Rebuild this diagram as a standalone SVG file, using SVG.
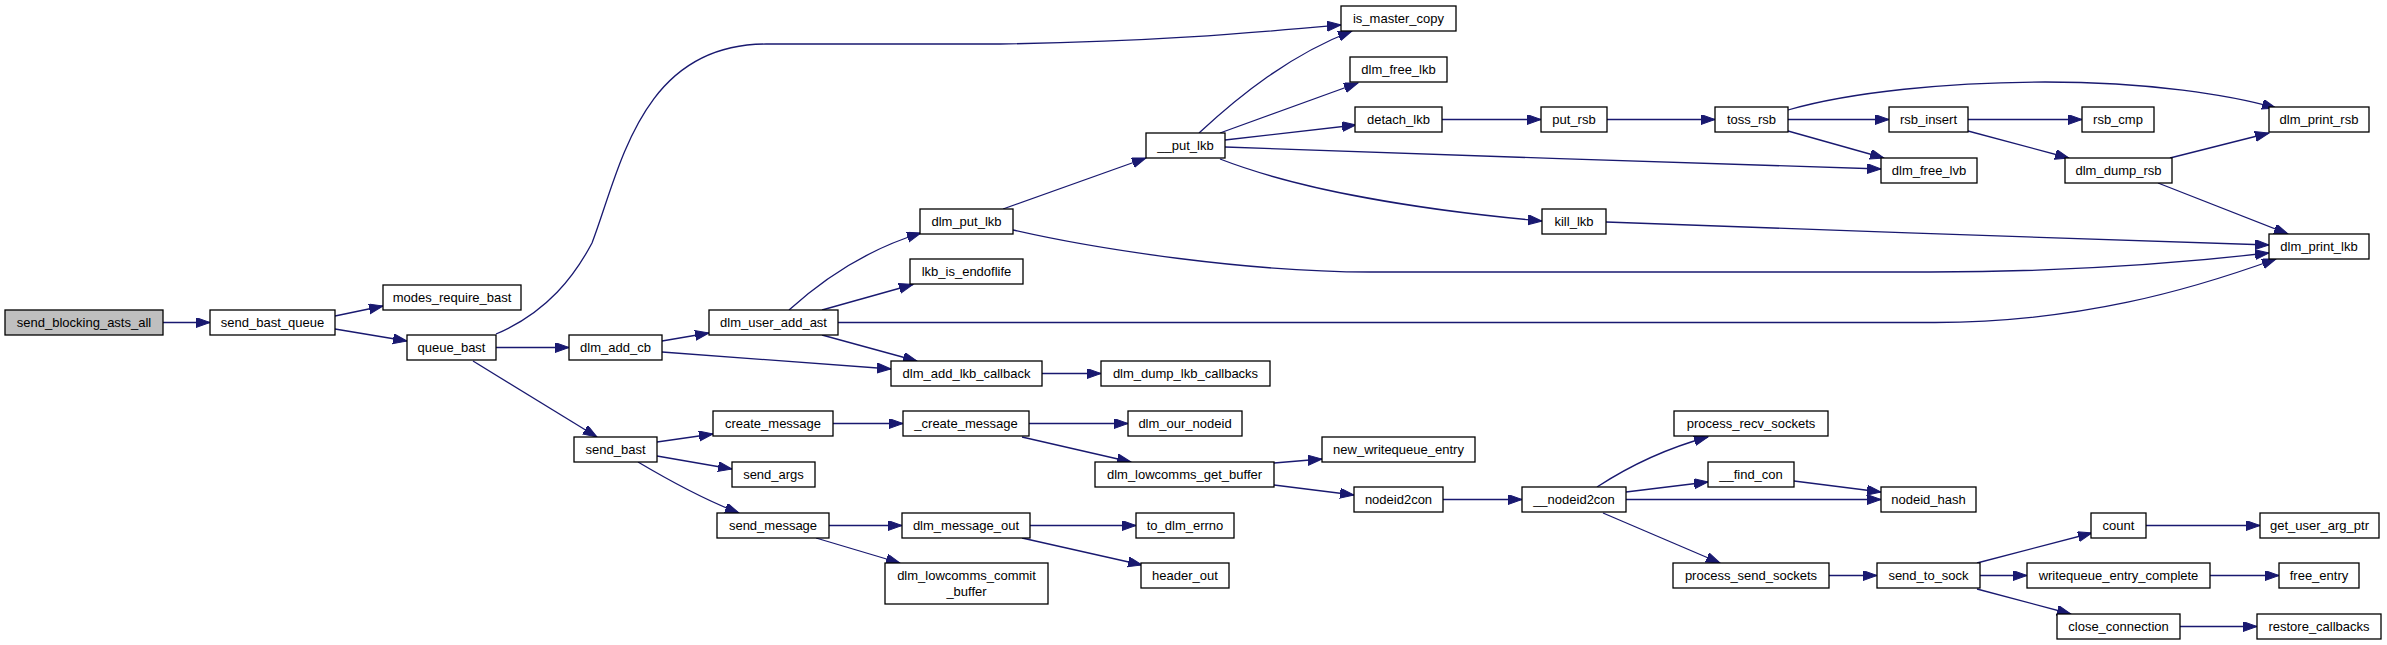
<svg xmlns="http://www.w3.org/2000/svg" width="2387" height="645" viewBox="0 0 2387 645">
<style>
.n rect{fill:#ffffff;stroke:#000000;stroke-width:1.3}
.root rect{fill:#bfbfbf}
.n text{font-family:"Liberation Sans",Arial,sans-serif;font-size:13px;fill:#000000;text-anchor:middle}
.e path{fill:none;stroke:#191970;stroke-width:1.3;marker-end:url(#ah)}
</style>
<defs>
<marker id="ah" markerUnits="userSpaceOnUse" markerWidth="16" markerHeight="12" refX="14" refY="5" orient="auto"><path d="M0,0 L14,5 L0,10 z" fill="#191970" stroke="#191970" stroke-width="1"/></marker>
</defs>
<rect x="0" y="0" width="2387" height="645" fill="#ffffff"/>
<g id="connectors" class="e">
<path d="M163,322.5 L210,322.5"/>
<path d="M335,316 L383,306"/>
<path d="M335,329 L407,341"/>
<path d="M496,334 C548,312 575,275 592,243 C620,170 640,44 766,44 L1000,44 C1150,42 1250,33 1341,25"/>
<path d="M496,347.5 L569,347.5"/>
<path d="M473,361 L597,437"/>
<path d="M662,341 L709,333"/>
<path d="M662,352 L891,369"/>
<path d="M822,335 L917,361"/>
<path d="M789,310 C820,282 865,250 921,233"/>
<path d="M822,310 L913,284.5"/>
<path d="M838,322.5 L1935,322.5 C2080,322 2190,290 2276,259"/>
<path d="M1003,209 L1146,158"/>
<path d="M1013,230 C1100,250 1250,272 1370,272 L1930,272 C2080,272 2190,262 2269,253"/>
<path d="M1199,133 C1240,95 1290,55 1352,31"/>
<path d="M1220,133 L1358,83"/>
<path d="M1225,140 L1356,125"/>
<path d="M1225,147 C1400,153 1700,164 1881,169"/>
<path d="M1220,159 C1300,190 1420,210 1542,221"/>
<path d="M1442,119.5 L1541,119.5"/>
<path d="M1607,119.5 L1715,119.5"/>
<path d="M1788,119.5 L1889,119.5"/>
<path d="M1788,131 L1884,158"/>
<path d="M1788,110 C1850,92 1950,82 2045,82 C2150,82 2230,95 2276,108"/>
<path d="M1968,119.5 L2082,119.5"/>
<path d="M1968,131 L2069,158"/>
<path d="M2170,158 L2269,133"/>
<path d="M2158,183 L2288,234"/>
<path d="M1606,222 C1800,229 2100,240 2269,245"/>
<path d="M657,442 L713,434"/>
<path d="M657,456 L732,469"/>
<path d="M638,462 C665,478 700,498 739,513"/>
<path d="M833,423.5 L903,423.5"/>
<path d="M1029,423.5 L1128,423.5"/>
<path d="M1022,437 L1131,462"/>
<path d="M1274,463 L1322,459"/>
<path d="M1274,485 L1354,495"/>
<path d="M1443,499.5 L1522,499.5"/>
<path d="M1597,487 C1620,472 1660,450 1708,437"/>
<path d="M1626,492 L1708,482"/>
<path d="M1626,499.5 L1881,499.5"/>
<path d="M1794,481 L1881,492"/>
<path d="M1603,513 L1720,563"/>
<path d="M1829,575.5 L1877,575.5"/>
<path d="M1977,563 L2092,533"/>
<path d="M1980,575.5 L2027,575.5"/>
<path d="M1977,589 L2071,614"/>
<path d="M2146,525.5 L2260,525.5"/>
<path d="M2210,575.5 L2279,575.5"/>
<path d="M2180,626.5 L2257,626.5"/>
<path d="M829,525.5 L902,525.5"/>
<path d="M816,538 L900,563"/>
<path d="M1030,525.5 L1136,525.5"/>
<path d="M1022,538 L1142,565"/>
<path d="M1042,373.5 L1101,373.5"/>
</g>
<g id="send_blocking_asts_all" class="n root"><rect x="5" y="310" width="158" height="25"/><text x="84" y="327">send_blocking_asts_all</text></g>
<g id="send_bast_queue" class="n"><rect x="210" y="310" width="125" height="25"/><text x="272.5" y="327">send_bast_queue</text></g>
<g id="modes_require_bast" class="n"><rect x="383" y="285" width="138" height="25"/><text x="452" y="302">modes_require_bast</text></g>
<g id="queue_bast" class="n"><rect x="407" y="335" width="89" height="25"/><text x="451.5" y="352">queue_bast</text></g>
<g id="dlm_add_cb" class="n"><rect x="569" y="335" width="93" height="25"/><text x="615.5" y="352">dlm_add_cb</text></g>
<g id="send_bast" class="n"><rect x="574" y="437" width="83" height="25"/><text x="615.5" y="454">send_bast</text></g>
<g id="dlm_user_add_ast" class="n"><rect x="709" y="310" width="129" height="25"/><text x="773.5" y="327">dlm_user_add_ast</text></g>
<g id="dlm_put_lkb" class="n"><rect x="920" y="209" width="93" height="25"/><text x="966.5" y="226">dlm_put_lkb</text></g>
<g id="lkb_is_endoflife" class="n"><rect x="910" y="259" width="113" height="25"/><text x="966.5" y="276">lkb_is_endoflife</text></g>
<g id="dlm_add_lkb_callback" class="n"><rect x="891" y="361" width="151" height="25"/><text x="966.5" y="378">dlm_add_lkb_callback</text></g>
<g id="dlm_dump_lkb_callbacks" class="n"><rect x="1101" y="361" width="169" height="25"/><text x="1185.5" y="378">dlm_dump_lkb_callbacks</text></g>
<g id="create_message" class="n"><rect x="713" y="411" width="120" height="25"/><text x="773" y="428">create_message</text></g>
<g id="send_args" class="n"><rect x="732" y="462" width="83" height="25"/><text x="773.5" y="479">send_args</text></g>
<g id="send_message" class="n"><rect x="717" y="513" width="112" height="25"/><text x="773" y="530">send_message</text></g>
<g id="_create_message" class="n"><rect x="903" y="411" width="126" height="25"/><text x="966" y="428">_create_message</text></g>
<g id="dlm_our_nodeid" class="n"><rect x="1128" y="411" width="114" height="25"/><text x="1185" y="428">dlm_our_nodeid</text></g>
<g id="dlm_lowcomms_get_buffer" class="n"><rect x="1095" y="462" width="179" height="25"/><text x="1184.5" y="479">dlm_lowcomms_get_buffer</text></g>
<g id="dlm_message_out" class="n"><rect x="902" y="513" width="128" height="25"/><text x="966" y="530">dlm_message_out</text></g>
<g id="to_dlm_errno" class="n"><rect x="1136" y="513" width="98" height="25"/><text x="1185" y="530">to_dlm_errno</text></g>
<g id="dlm_lowcomms_commit_buffer" class="n"><rect x="885" y="563" width="163" height="41"/><text x="966.5" y="580">dlm_lowcomms_commit</text><text x="966.5" y="596">_buffer</text></g>
<g id="header_out" class="n"><rect x="1141" y="563" width="88" height="25"/><text x="1185" y="580">header_out</text></g>
<g id="__put_lkb" class="n"><rect x="1146" y="133" width="79" height="25"/><text x="1185.5" y="150">__put_lkb</text></g>
<g id="is_master_copy" class="n"><rect x="1341" y="6" width="115" height="25"/><text x="1398.5" y="23">is_master_copy</text></g>
<g id="dlm_free_lkb" class="n"><rect x="1350" y="57" width="97" height="25"/><text x="1398.5" y="74">dlm_free_lkb</text></g>
<g id="detach_lkb" class="n"><rect x="1355" y="107" width="87" height="25"/><text x="1398.5" y="124">detach_lkb</text></g>
<g id="kill_lkb" class="n"><rect x="1542" y="209" width="64" height="25"/><text x="1574" y="226">kill_lkb</text></g>
<g id="put_rsb" class="n"><rect x="1541" y="107" width="66" height="25"/><text x="1574" y="124">put_rsb</text></g>
<g id="toss_rsb" class="n"><rect x="1715" y="107" width="73" height="25"/><text x="1751.5" y="124">toss_rsb</text></g>
<g id="rsb_insert" class="n"><rect x="1889" y="107" width="79" height="25"/><text x="1928.5" y="124">rsb_insert</text></g>
<g id="dlm_free_lvb" class="n"><rect x="1881" y="158" width="96" height="25"/><text x="1929" y="175">dlm_free_lvb</text></g>
<g id="rsb_cmp" class="n"><rect x="2082" y="107" width="72" height="25"/><text x="2118" y="124">rsb_cmp</text></g>
<g id="dlm_dump_rsb" class="n"><rect x="2065" y="158" width="107" height="25"/><text x="2118.5" y="175">dlm_dump_rsb</text></g>
<g id="dlm_print_rsb" class="n"><rect x="2269" y="107" width="100" height="25"/><text x="2319" y="124">dlm_print_rsb</text></g>
<g id="dlm_print_lkb" class="n"><rect x="2269" y="234" width="100" height="25"/><text x="2319" y="251">dlm_print_lkb</text></g>
<g id="new_writequeue_entry" class="n"><rect x="1322" y="437" width="153" height="25"/><text x="1398.5" y="454">new_writequeue_entry</text></g>
<g id="nodeid2con" class="n"><rect x="1354" y="487" width="89" height="25"/><text x="1398.5" y="504">nodeid2con</text></g>
<g id="__nodeid2con" class="n"><rect x="1522" y="487" width="104" height="25"/><text x="1574" y="504">__nodeid2con</text></g>
<g id="process_recv_sockets" class="n"><rect x="1674" y="411" width="154" height="25"/><text x="1751" y="428">process_recv_sockets</text></g>
<g id="__find_con" class="n"><rect x="1708" y="462" width="86" height="25"/><text x="1751" y="479">__find_con</text></g>
<g id="process_send_sockets" class="n"><rect x="1673" y="563" width="156" height="25"/><text x="1751" y="580">process_send_sockets</text></g>
<g id="nodeid_hash" class="n"><rect x="1881" y="487" width="95" height="25"/><text x="1928.5" y="504">nodeid_hash</text></g>
<g id="send_to_sock" class="n"><rect x="1877" y="563" width="103" height="25"/><text x="1928.5" y="580">send_to_sock</text></g>
<g id="count" class="n"><rect x="2091" y="513" width="55" height="25"/><text x="2118.5" y="530">count</text></g>
<g id="get_user_arg_ptr" class="n"><rect x="2260" y="513" width="119" height="25"/><text x="2319.5" y="530">get_user_arg_ptr</text></g>
<g id="writequeue_entry_complete" class="n"><rect x="2027" y="563" width="183" height="25"/><text x="2118.5" y="580">writequeue_entry_complete</text></g>
<g id="free_entry" class="n"><rect x="2279" y="563" width="80" height="25"/><text x="2319" y="580">free_entry</text></g>
<g id="close_connection" class="n"><rect x="2057" y="614" width="123" height="25"/><text x="2118.5" y="631">close_connection</text></g>
<g id="restore_callbacks" class="n"><rect x="2257" y="614" width="124" height="25"/><text x="2319" y="631">restore_callbacks</text></g>
</svg>
